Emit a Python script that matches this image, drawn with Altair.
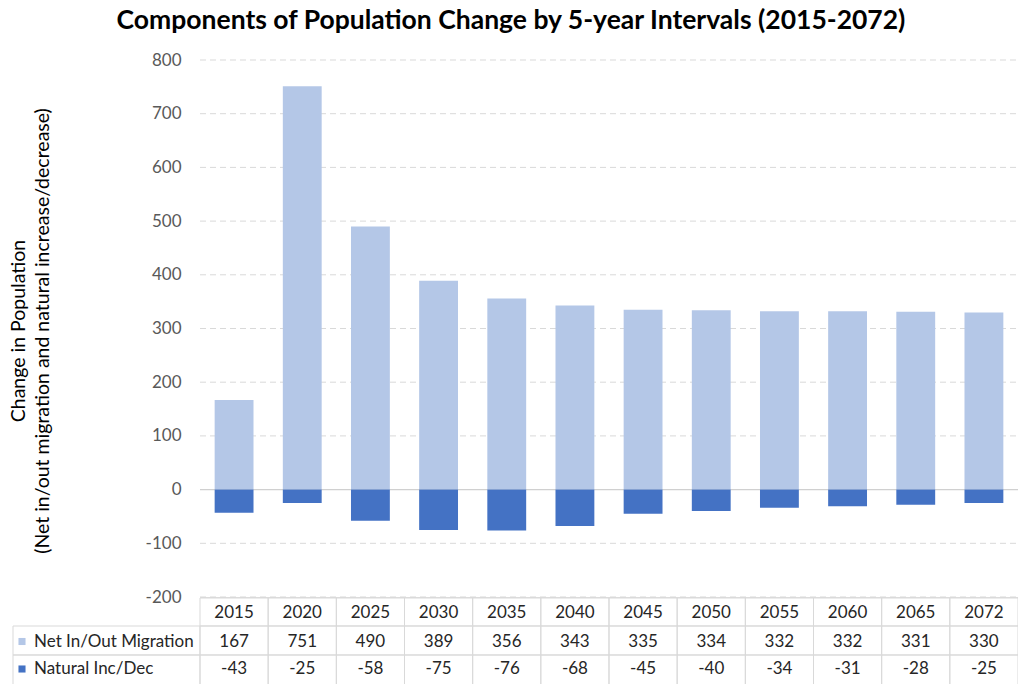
import altair as alt
import pandas as pd

years = ["2015", "2020", "2025", "2030", "2035", "2040", "2045", "2050", "2055", "2060", "2065", "2072"]
migration = [167, 751, 490, 389, 356, 343, 335, 334, 332, 332, 331, 330]
natural = [-43, -25, -58, -75, -76, -68, -45, -40, -34, -31, -28, -25]
series = ["Net In/Out Migration", "Natural Inc/Dec"]
colors = ["#b4c7e7", "#4472c4"]
y_ticks = [-200, -100, 0, 100, 200, 300, 400, 500, 600, 700, 800]

FONT = "Lato"
W, H = 818, 537

rows = []
for i, yr in enumerate(years):
    rows.append({"year": yr, "component": series[0], "value": migration[i], "order": 0})
    rows.append({"year": yr, "component": series[1], "value": natural[i], "order": 1})
df = pd.DataFrame(rows)

xscale = alt.Scale(domain=years, paddingInner=0, paddingOuter=0)
yscale = alt.Scale(domain=[-200, 800], nice=False, zero=False)
xenc = alt.X("year:N", scale=xscale, axis=None, sort=years)

edge_df = pd.DataFrame({"k": [0]})

# white backdrop over the plot area (hides any stray axis grid beneath the marks)
backdrop = alt.Chart(edge_df).mark_rect(fill="white").encode(
    x=alt.value(0), x2=alt.value(W), y=alt.value(0), y2=alt.value(H))

grid_df = pd.DataFrame({"t": y_ticks})
grid = alt.Chart(grid_df).transform_filter("datum.t != 0").mark_rule(
    color="#d9d9d9", strokeDash=[6, 4], strokeWidth=1).encode(
    y=alt.Y("t:Q", scale=yscale), x=alt.value(0), x2=alt.value(W))

bars = alt.Chart(df).mark_bar(width={"band": 0.57}).encode(
    x=xenc,
    y=alt.Y("value:Q", scale=yscale,
            axis=alt.Axis(values=y_ticks, grid=False, domain=False, ticks=False,
                          labelPadding=19, labelFontSize=17, labelColor="#595959",
                          labelFont=FONT, labelExpr="datum.value + ''",
                          title=["Change in Population",
                                 "(Net in/out migration and natural increase/decrease)"],
                          titleFont=FONT, titleFontSize=19.5, titleFontWeight="normal",
                          titleColor="#000000", titleAngle=-90, titleX=-191, titleY=H / 2 + 2,
                          titleAlign="center", titleBaseline="top", titleLineHeight=24),
            stack="zero"),
    color=alt.Color("component:N", scale=alt.Scale(domain=series, range=colors), legend=None),
    order=alt.Order("order:Q"),
)

zero_df = pd.DataFrame({"v": [0]})
zero_rule = alt.Chart(zero_df).mark_rule(color="#d0d0d0", strokeWidth=1.2).encode(
    y=alt.Y("v:Q", scale=yscale),
    x=alt.value(0), x2=alt.value(W),
)

# ---- data table below the plot ----
TOP = H + 1
R1 = TOP + 28
R2 = R1 + 29
BOT = R2 + 34
GRID = "#d9d9d9"
TXT = "#262626"
TFS = 17

tbl = pd.DataFrame({"year": years, "mig": [str(v) for v in migration],
                    "nat": [str(v) for v in natural]})

def cells(y0, y1):
    return alt.Chart(tbl).mark_rect(fill="white", fillOpacity=0, stroke=GRID,
                                    strokeWidth=1).encode(
        x=alt.X("year:N", scale=xscale, axis=None, sort=years),
        y=alt.value(y0), y2=alt.value(y1))

def head_cell(y0, y1):
    return alt.Chart(edge_df).mark_rect(fill="white", fillOpacity=0, stroke=GRID,
                                        strokeWidth=1).encode(
        x=alt.value(-187), x2=alt.value(0), y=alt.value(y0), y2=alt.value(y1))

grid_layers = [cells(TOP, R1), cells(R1, R2), cells(R2, BOT),
               head_cell(R1, R2), head_cell(R2, BOT)]

def cell_text(field, ypix):
    return alt.Chart(tbl).mark_text(font=FONT, fontSize=TFS, color=TXT, align="center",
                                    baseline="middle").encode(
        x=alt.X("year:N", scale=xscale, axis=None, sort=years, bandPosition=0.5),
        y=alt.value(ypix), text=alt.Text(field))

ROW1_Y = (TOP + R1) / 2 + 1
ROW2_Y = (R1 + R2) / 2 + 1
ROW3_Y = R2 + 14
hdr = cell_text("year:N", ROW1_Y)
mig_t = cell_text("mig:N", ROW2_Y)
nat_t = cell_text("nat:N", ROW3_Y)

def key(i, ypix):
    sq = alt.Chart(edge_df).mark_square(size=50, opacity=1, color=colors[i]).encode(
        x=alt.value(-178), y=alt.value(ypix))
    tx = alt.Chart(edge_df).mark_text(font=FONT, fontSize=TFS, color=TXT, align="left",
                                      baseline="middle", text=series[i]).encode(
        x=alt.value(-166), y=alt.value(ypix))
    return [sq, tx]

chart = alt.layer(
    backdrop, grid, zero_rule, bars, *grid_layers,
    hdr, mig_t, nat_t, *key(0, ROW2_Y), *key(1, ROW3_Y),
).properties(
    width=W, height=H,
    title=alt.TitleParams("Components of Population Change by 5-year Intervals (2015-2072)",
                          font=FONT, fontSize=26.5, fontWeight="bold", color="#000000",
                          anchor="middle", dx=-98, offset=17),
    autosize=alt.AutoSizeParams(type="none"),
    padding={"left": 200, "top": 60, "right": 0, "bottom": 87},
).configure_view(stroke=None).configure(background="white").configure_axis(
    grid=False).configure_axisX(grid=False)

chart.save("out.html", embed_options={"renderer": "svg", "actions": False})
